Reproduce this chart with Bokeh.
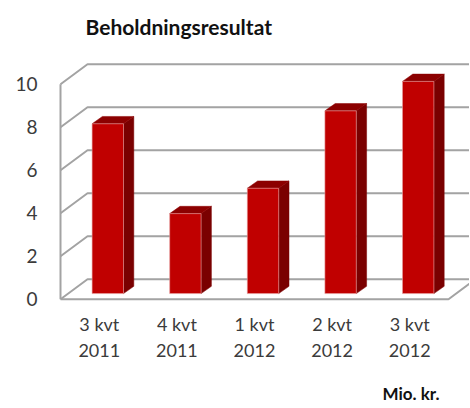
from bokeh.embed import file_html
from bokeh.resources import INLINE
from bokeh.plotting import figure
from bokeh.models import Range1d, FixedTicker, Title, ColumnDataSource

# --- data ---
quarters = ["3 kvt\n2011", "4 kvt\n2011", "1 kvt\n2012", "2 kvt\n2012", "3 kvt\n2012"]
values = [7.9, 3.72, 4.9, 8.5, 9.87]
y_ticks = [0, 2, 4, 6, 8, 10]
title_text = "Beholdningsresultat"
unit_text = "Mio. kr."

# --- layout (page pixels) ---
FIG_W, FIG_H = 470, 413
B_LEFT, B_TOP, B_BOTTOM = 44, 55, 103
PAGE_TOP = 50    # page y of the frame's top edge
FRAME_W, FRAME_H = FIG_W - B_LEFT, FIG_H - B_TOP - B_BOTTOM
PX_X = 77.6      # pixels per category
PX_Y = 21.5      # pixels per unit
X0_PAGE = 99.8   # page x of first category centre
Y0_PAGE = 297.8  # page y of value 0 on the front plane

xr = Range1d((B_LEFT - X0_PAGE) / PX_X, (B_LEFT + FRAME_W - X0_PAGE) / PX_X)
yr = Range1d((Y0_PAGE - (PAGE_TOP + FRAME_H)) / PX_Y, (Y0_PAGE - PAGE_TOP) / PX_Y)

FONT = "Lato"
TXT = "#3b3b3b"
GRID = "#a3a3a3"
FRONT, SIDE, TOP = "#c00000", "#7a0000", "#8c0000"

p = figure(width=FIG_W, height=FIG_H, frame_width=FRAME_W, frame_height=FRAME_H,
           x_range=xr, y_range=yr, output_backend="svg", toolbar_location=None,
           margin=(-4, 0, 0, -1),
           min_border_left=B_LEFT, min_border_top=B_TOP, min_border_bottom=B_BOTTOM,
           min_border_right=0, outline_line_color=None)
p.xgrid.visible = False
p.ygrid.visible = False

# title
p.title.text = title_text
p.title.text_font = FONT
p.title.text_font_size = "21px"
p.title.text_font_style = "bold"
p.title.text_color = "#111111"
p.title.offset = 42
p.title.standoff = 26

# axes
for ax in (p.xaxis[0], p.yaxis[0]):
    ax.axis_line_color = None
    ax.major_tick_line_color = None
    ax.minor_tick_line_color = None
    ax.major_label_text_font = FONT
    ax.major_label_text_color = TXT
p.yaxis[0].ticker = FixedTicker(ticks=y_ticks)
p.yaxis[0].major_label_text_font_size = "19px"
p.yaxis[0].major_label_standoff = 0
p.xaxis[0].ticker = FixedTicker(ticks=list(range(len(quarters))))
p.xaxis[0].major_label_overrides = {i: q for i, q in enumerate(quarters)}
p.xaxis[0].major_label_text_font_size = "18px"
p.xaxis[0].major_label_standoff = 0

# unit note, in a panel under the category axis
p.add_layout(Title(text=unit_text, align="right", offset=30, standoff=34,
                   text_font=FONT, text_font_size="17px", text_font_style="bold",
                   text_color="#111111"), "below")

# 3-D box: walls and floor
n = len(quarters)
left = -0.5
right = n - 0.5
wall_dx = 27 / PX_X
wall_dy = 20 / PX_Y
edge = xr.end

xs, ys = [], []
for t in y_ticks:
    xs.append([left, left + wall_dx, edge])
    ys.append([t, t + wall_dy, t + wall_dy])
xs.append([left, left])
ys.append([y_ticks[0], y_ticks[-1]])
xs.append([left, right, right + wall_dx])
ys.append([0, 0, wall_dy])
p.multi_line(xs, ys, line_color=GRID, line_width=2)

# 3-D bars
bar_w = 31.4 / PX_X
off_x = 8.5 / PX_X - bar_w / 2
off_y = 5.7 / PX_Y
bar_dx = 10.3 / PX_X
bar_dy = 7.3 / PX_Y

x_l = [i + off_x for i in range(n)]
x_r = [x + bar_w for x in x_l]
y_b = [off_y] * n
y_t = [v + off_y for v in values]

top_x = [[a, a + bar_dx, b + bar_dx, b] for a, b in zip(x_l, x_r)]
top_y = [[t, t + bar_dy, t + bar_dy, t] for t in y_t]
side_x = [[b, b + bar_dx, b + bar_dx, b] for b in x_r]
side_y = [[t, t + bar_dy, off_y + bar_dy, off_y] for t in y_t]

p.patches(side_x, side_y, fill_color=SIDE, line_color=SIDE, line_width=0.5)
p.patches(top_x, top_y, fill_color=TOP, line_color=TOP, line_width=0.5)
src = ColumnDataSource(dict(left=x_l, right=x_r, bottom=y_b, top=y_t))
p.quad(left="left", right="right", bottom="bottom", top="top", source=src,
       fill_color=FRONT, line_color="#e8a0a0", line_width=0.6)

open("out.html", "w").write(file_html(p, INLINE))
